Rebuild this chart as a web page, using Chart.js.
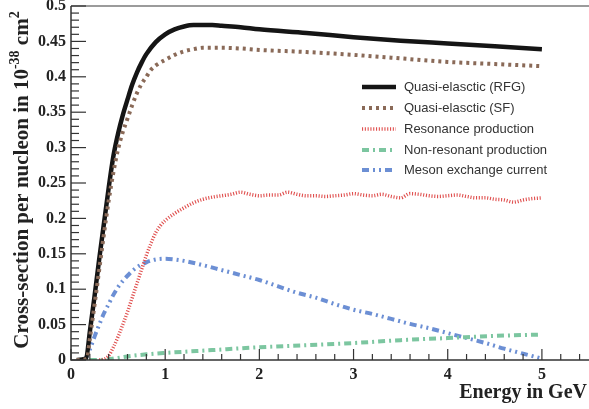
<!DOCTYPE html>
<html><head><meta charset="utf-8">
<script src="https://cdn.jsdelivr.net/npm/chart.js@4.4.0/dist/chart.umd.min.js"></script>
<style>html,body{margin:0;padding:0;background:#fff;}#wrap{width:589px;height:409px;}</style>
</head><body><div id="wrap"><canvas id="c" width="589" height="409"></canvas></div>
<script>
const seriesNames = ["Quasi-elasctic (RFG)", "Quasi-elasctic (SF)", "Resonance production", "Non-resonant production", "Meson exchange current"];

const rfgE  = [0.06,0.16,0.2,0.25,0.3,0.35,0.4,0.45,0.5,0.55,0.6,0.65,0.7,0.75,0.8,0.9,1.0,1.1,1.2,1.3,1.4,1.5,1.6,1.8,2.0,2.5,3.0,3.5,4.0,4.5,5.0];
const rfgXS = [0,0.002,0.04,0.09,0.143,0.193,0.243,0.288,0.32,0.346,0.368,0.389,0.406,0.42,0.432,0.449,0.46,0.467,0.471,0.473,0.473,0.473,0.472,0.47,0.467,0.462,0.456,0.451,0.447,0.443,0.439];

const sfE  = [0.06,0.17,0.2,0.25,0.3,0.35,0.4,0.45,0.5,0.55,0.6,0.65,0.7,0.75,0.8,0.85,0.9,1.0,1.1,1.2,1.3,1.4,1.6,1.8,2.0,2.5,3.0,3.5,4.0,4.5,5.0];
const sfXS = [0,0.002,0.03,0.078,0.128,0.178,0.225,0.265,0.298,0.322,0.341,0.36,0.377,0.39,0.4,0.41,0.416,0.424,0.431,0.436,0.439,0.441,0.441,0.44,0.438,0.435,0.431,0.426,0.421,0.418,0.415];

const resE  = [0.3,0.35,0.4,0.45,0.5,0.55,0.6,0.65,0.7,0.75,0.8,0.85,0.9,0.95,1.0,1.1,1.2,1.3,1.4,1.5,1.6,1.7,1.8,1.9,2.0,2.1,2.2,2.3,2.4,2.5,2.6,2.7,2.8,2.9,3.0,3.1,3.2,3.3,3.4,3.5,3.6,3.7,3.8,3.9,4.0,4.1,4.2,4.3,4.4,4.5,4.6,4.7,4.8,4.9,5.0];
const resXS = [0,0.001,0.006,0.018,0.033,0.05,0.068,0.088,0.108,0.128,0.148,0.165,0.18,0.19,0.197,0.207,0.215,0.222,0.227,0.23,0.232,0.234,0.237,0.234,0.232,0.233,0.233,0.237,0.234,0.232,0.232,0.231,0.232,0.233,0.235,0.233,0.232,0.234,0.231,0.229,0.235,0.234,0.232,0.231,0.232,0.233,0.231,0.229,0.229,0.227,0.226,0.223,0.226,0.228,0.229];

const nonresE  = [0.2,0.3,0.4,0.5,0.6,0.8,1.0,1.5,2.0,2.5,3.0,3.5,4.0,4.5,5.0];
const nonresXS = [0,0,0.001,0.003,0.005,0.008,0.01,0.014,0.018,0.021,0.024,0.028,0.031,0.034,0.036];

const mecE  = [0.15,0.2,0.25,0.3,0.35,0.4,0.45,0.5,0.6,0.7,0.8,0.9,1.0,1.1,1.2,1.4,1.6,1.8,2.0,2.2,2.4,2.6,2.8,3.0,3.2,3.4,3.6,3.8,4.0,4.2,4.4,4.6,4.8,5.0];
const mecXS = [0,0.015,0.033,0.05,0.066,0.079,0.092,0.103,0.119,0.131,0.138,0.142,0.143,0.142,0.14,0.134,0.127,0.12,0.113,0.104,0.095,0.088,0.079,0.071,0.065,0.058,0.051,0.045,0.038,0.031,0.024,0.016,0.009,0.002];

const xTickValues = [0,1,2,3,4,5];
const yTickValues = [0,0.05,0.1,0.15,0.2,0.25,0.3,0.35,0.4,0.45,0.5];
const xAxisTitle = "Energy in GeV";
const yAxisTitleParts = ["Cross-section per nucleon in 10", "-38", " cm", "2"];

const styles = [
  {color:'#151515', width:4.5, dash:[], order:1},
  {color:'#8a6a58', width:4, dash:[3,4], order:0},
  {color:'#e0504f', width:3.5, dash:[1.1,1.7], order:2},
  {color:'#7cc6a0', width:4, dash:[7,4,2,4], order:3},
  {color:'#6c8fd4', width:4, dash:[7,4,2,4,2,4], order:4}
];
const seriesE = [rfgE, sfE, resE, nonresE, mecE];
const seriesXS = [rfgXS, sfXS, resXS, nonresXS, mecXS];

const datasets = seriesNames.map((n,i)=>({
  label:n,
  data: seriesE[i].map((e,k)=>({x:e, y:seriesXS[i][k]})),
  borderColor: styles[i].color,
  borderWidth: styles[i].width,
  borderDash: styles[i].dash,
  borderCapStyle:'butt',
  pointRadius:0,
  fill:false,
  cubicInterpolationMode:'monotone',
  order: styles[i].order
}));

const SERIF = '"Liberation Serif","Times New Roman",serif';
const SANS = '"Liberation Sans",Arial,sans-serif';

const framePlugin = {
  id:'frame',
  beforeDatasetsDraw(chart){
    const {ctx, chartArea:a} = chart;
    ctx.save();
    ctx.strokeStyle='#7a7a7a'; ctx.lineWidth=1.5;
    ctx.beginPath(); ctx.moveTo(a.left, a.top); ctx.lineTo(a.right, a.top); ctx.stroke();
    ctx.restore();
  },
  afterDatasetsDraw(chart){
    const {ctx, chartArea:a, scales:{x,y}} = chart;
    ctx.save();
    ctx.strokeStyle='#333'; ctx.lineWidth=1.2;
    for(let k=0;k<=50;k++){
      const v=k*0.01; const py=y.getPixelForValue(v);
      const len = (k%5===0)?15:8;
      ctx.beginPath(); ctx.moveTo(a.left, py); ctx.lineTo(a.left+len, py); ctx.stroke();
    }
    for(let k=0;k<=27;k++){
      const v=k*0.2; const px=x.getPixelForValue(v);
      const len = (k%5===0)?11:6;
      ctx.beginPath(); ctx.moveTo(px, a.bottom); ctx.lineTo(px, a.bottom-len); ctx.stroke();
    }
    ctx.strokeStyle='#333'; ctx.lineWidth=1.5;
    ctx.beginPath(); ctx.moveTo(a.left, a.top); ctx.lineTo(a.left, a.bottom); ctx.lineTo(a.right, a.bottom); ctx.stroke();

    const legY=[87,108,129,150,170];
    ctx.font='13px '+SANS; ctx.textBaseline='middle'; ctx.textAlign='left';
    seriesNames.forEach((n,i)=>{
      const s=styles[i];
      ctx.save();
      ctx.strokeStyle=s.color; ctx.lineWidth=s.width; ctx.setLineDash(s.dash); ctx.lineCap='butt';
      ctx.beginPath(); ctx.moveTo(362, legY[i]); ctx.lineTo(396, legY[i]); ctx.stroke();
      ctx.restore();
      ctx.fillStyle='#333'; ctx.fillText(n, 404, legY[i]+0.5);
    });

    ctx.fillStyle='#222';
    ctx.font='bold 20px '+SERIF; ctx.textAlign='right'; ctx.textBaseline='alphabetic';
    ctx.fillText(xAxisTitle, 587, 398);

    const big='bold 21px '+SERIF, small='bold 14px '+SERIF;
    const fonts=[big, small, big, small], offs=[0,-9,0,-9];
    let total=0; const w=[];
    yAxisTitleParts.forEach((t,i)=>{ctx.font=fonts[i]; w[i]=ctx.measureText(t).width; total+=w[i];});
    ctx.translate(28, 180); ctx.rotate(-Math.PI/2);
    ctx.textAlign='left';
    let cx=-total/2;
    yAxisTitleParts.forEach((t,i)=>{ctx.font=fonts[i]; ctx.fillText(t, cx, offs[i]); cx+=w[i];});
    ctx.restore();
  }
};

new Chart(document.getElementById('c'), {
  type:'line',
  data:{datasets},
  options:{
    responsive:false, animation:false, devicePixelRatio:1,
    layout:{padding:{top:6,right:0,left:0,bottom:0}},
    plugins:{legend:{display:false}, tooltip:{enabled:false}},
    scales:{
      x:{type:'linear', min:0, max:5.5,
        grid:{display:false, drawTicks:false}, border:{display:false},
        ticks:{autoSkip:false, maxRotation:0, padding:5, color:'#222', font:{family:SERIF, size:16, weight:'bold'},
          callback:v=>String(v)},
        afterBuildTicks:s=>{s.ticks=xTickValues.map(v=>({value:v}));},
        afterFit:s=>{s.height=49; s.paddingLeft=0; s.paddingRight=0;}
      },
      y:{type:'linear', min:0, max:0.5,
        grid:{display:false, drawTicks:false}, border:{display:false},
        ticks:{autoSkip:false, padding:5, color:'#222', font:{family:SERIF, size:16, weight:'bold'},
          callback:v=>String(Math.round(v*100)/100)},
        afterBuildTicks:s=>{s.ticks=yTickValues.map(v=>({value:v}));},
        afterFit:s=>{s.width=71; s.paddingTop=0; s.paddingBottom=0;}
      }
    }
  },
  plugins:[framePlugin]
});
</script></body></html>
